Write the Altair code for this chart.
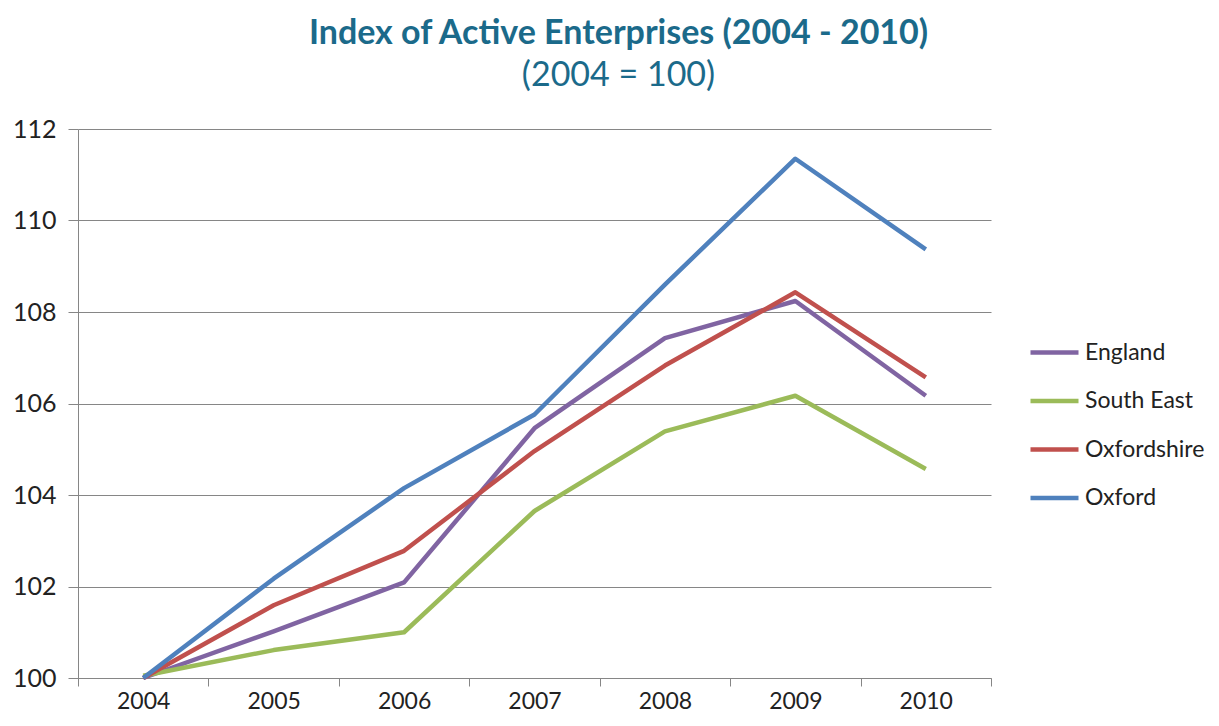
import altair as alt
import pandas as pd

years = ["2004", "2005", "2006", "2007", "2008", "2009", "2010"]
series = ["England", "South East", "Oxfordshire", "Oxford"]
england = [100.0, 101.02, 102.09, 105.46, 107.43, 108.24, 106.17]
south_east = [100.05, 100.61, 101.0, 103.65, 105.39, 106.17, 104.57]
oxfordshire = [100.0, 101.59, 102.78, 104.96, 106.83, 108.43, 106.57]
oxford = [100.0, 102.17, 104.15, 105.76, 108.6, 111.35, 109.37]
colors = ["#8064A2", "#9BBB59", "#C0504D", "#4F81BD"]

rows = []
for name, vals in zip(series, [england, south_east, oxfordshire, oxford]):
    for y, v in zip(years, vals):
        rows.append({"Year": y, "Series": name, "Index": v})
df = pd.DataFrame(rows)

FONT = "Lato"

chart = alt.Chart(df).mark_line(strokeWidth=4.5, strokeJoin="round").encode(
    x=alt.X("Year:O", sort=years,
            scale=alt.Scale(type="band", paddingInner=0, paddingOuter=0),
            axis=alt.Axis(title=None, labelAngle=0, tickBand="extent", grid=False,
                          tickSize=8, labelPadding=4, labelFontSize=23,
                          labelFont=FONT, labelColor="#222222",
                          domainColor="#868686", tickColor="#868686")),
    y=alt.Y("Index:Q", scale=alt.Scale(domain=[100, 112], nice=False, zero=False),
            axis=alt.Axis(title=None, values=[100, 102, 104, 106, 108, 110, 112],
                          tickSize=10, labelPadding=12, labelFontSize=25,
                          labelFont=FONT, labelColor="#222222",
                          gridColor="#868686", domainColor="#868686",
                          tickColor="#868686")),
    color=alt.Color("Series:N", sort=series,
                    scale=alt.Scale(domain=series, range=colors),
                    legend=alt.Legend(title=None, orient="none", legendX=950, legendY=197,
                                      symbolType="stroke", symbolSize=2304,
                                      symbolStrokeWidth=4.5, rowPadding=9.5,
                                      labelOffset=4, labelFontSize=23, labelFont=FONT,
                                      labelColor="#222222")),
    order=alt.Order("ord:Q"),
).transform_calculate(
    ord="indexof(['England','South East','Oxfordshire','Oxford'], datum.Series)"
).properties(
    width=913, height=549,
    autosize=alt.AutoSizeParams(type="none"),
    padding={"left": 70, "top": 121, "right": 220, "bottom": 36},
    title=alt.TitleParams(
        text="Index of Active Enterprises (2004 - 2010)",
        subtitle="(2004 = 100)",
        anchor="middle", dx=84, offset=24,
        font=FONT, fontSize=34, fontWeight="bold", color="#1B6A8A",
        subtitleFont=FONT, subtitleFontSize=34, subtitleColor="#1B6A8A",
        subtitlePadding=8,
    ),
).configure_view(stroke=None)

chart.save("out.html", embed_options={"renderer": "svg", "actions": False})
